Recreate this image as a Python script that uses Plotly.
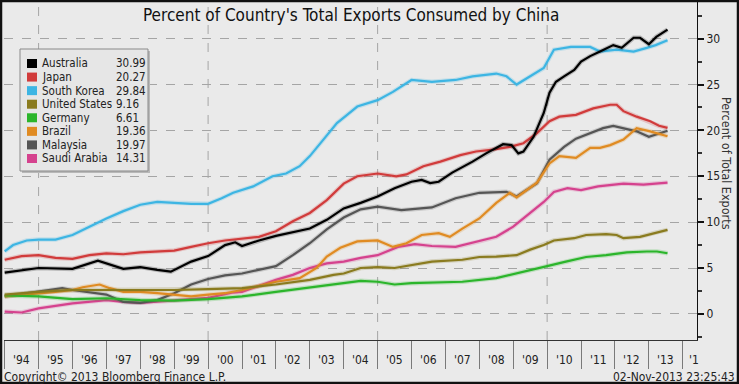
import plotly.graph_objects as go

# ---------------- data (decimal years, percent) ----------------
aus_t = [1994.0, 1995.0, 1996.0, 1996.75, 1997.5, 1998.0, 1998.5, 1998.9, 1999.5, 2000.0, 2000.5, 2000.8,
         2001.0, 2001.5, 2002.0, 2002.5, 2003.0, 2003.5, 2004.0, 2004.5, 2005.0, 2005.5, 2006.0, 2006.3,
         2006.55, 2006.8, 2007.2, 2007.8, 2008.2, 2008.7, 2008.95, 2009.15, 2009.3, 2009.6, 2009.9, 2010.07,
         2010.26, 2010.5, 2010.8, 2011.0, 2011.27, 2011.56, 2011.95, 2012.2, 2012.55, 2012.74, 2013.0,
         2013.22, 2013.55]
aus_v = [4.5, 5.0, 4.9, 5.8, 4.9, 5.1, 4.8, 4.6, 5.7, 6.3, 7.5, 7.8,
         7.4, 8.0, 8.5, 8.9, 9.3, 10.25, 11.5, 12.1, 12.8, 13.7, 14.4, 14.6,
         14.25, 14.4, 15.4, 16.6, 17.5, 18.5, 18.4, 17.5, 17.7, 19.3, 21.9, 24.1,
         25.3, 25.9, 26.6, 27.5, 28.1, 28.6, 29.3, 29.0, 30.1, 30.1, 29.4,
         30.2, 30.99]

jpn_t = [1994.0, 1994.5, 1995.0, 1995.5, 1996.0, 1996.5, 1997.0, 1997.5, 1998.0, 1998.5, 1999.0, 1999.5,
         2000.0, 2000.5, 2001.0, 2001.5, 2002.0, 2002.5, 2003.0, 2003.5, 2004.0, 2004.4, 2005.0, 2005.55,
         2005.85, 2006.35, 2006.85, 2007.44, 2007.9, 2008.4, 2008.9, 2009.3, 2009.7, 2010.07, 2010.36,
         2010.85, 2011.36, 2011.86, 2012.05, 2012.25, 2012.64, 2013.04, 2013.3, 2013.55]
jpn_v = [5.9, 6.3, 6.4, 6.1, 6.0, 6.4, 6.6, 6.5, 6.7, 6.8, 6.9, 7.3,
         7.7, 8.0, 8.2, 8.4, 9.0, 10.1, 11.0, 12.4, 14.2, 15.0, 15.3, 15.0,
         15.2, 16.1, 16.6, 17.3, 17.7, 17.9, 18.2, 18.6, 19.7, 21.0, 21.5,
         21.7, 22.4, 22.8, 22.8, 22.1, 21.5, 21.0, 20.5, 20.27]

kor_t = [1994.0, 1994.25, 1994.65, 1995.0, 1995.5, 1996.0, 1996.5, 1997.0, 1997.5, 1998.0, 1998.5, 1999.0,
         1999.5, 2000.0, 2000.4, 2000.74, 2001.33, 2001.9, 2002.3, 2002.7, 2003.0, 2003.4, 2003.8, 2004.1,
         2004.4, 2005.0, 2005.45, 2006.0, 2006.6, 2007.3, 2007.8, 2008.5, 2008.8, 2009.1, 2009.4, 2009.9,
         2010.2, 2010.7, 2011.27, 2011.56, 2012.05, 2012.55, 2012.94, 2013.2, 2013.55]
kor_v = [6.8, 7.5, 8.0, 8.1, 8.1, 8.6, 9.5, 10.4, 11.2, 11.9, 12.2, 12.1,
         12.0, 12.0, 12.6, 13.2, 13.9, 15.0, 15.3, 16.1, 17.2, 19.0, 20.8, 21.7,
         22.6, 23.3, 24.2, 25.5, 25.3, 25.5, 25.9, 26.2, 25.9, 25.0, 25.7, 26.8,
         28.8, 29.1, 29.1, 28.6, 28.8, 28.6, 29.0, 29.3, 29.84]

usa_t = [1994.0, 1995.0, 1996.0, 1997.0, 1998.0, 1999.0, 2000.0, 2001.0, 2002.0, 2003.0, 2003.7, 2004.0,
         2004.5, 2005.0, 2005.5, 2006.0, 2006.6, 2007.5, 2008.0, 2008.5, 2009.1, 2009.5, 2009.9, 2010.2,
         2010.8, 2011.15, 2011.74, 2012.05, 2012.25, 2012.74, 2013.14, 2013.55]
usa_v = [2.1, 2.4, 2.6, 2.6, 2.6, 2.6, 2.7, 2.8, 3.2, 3.7, 4.25, 4.4,
         5.0, 5.1, 5.0, 5.3, 5.7, 5.9, 6.2, 6.25, 6.4, 7.0, 7.5, 8.0,
         8.25, 8.6, 8.7, 8.6, 8.25, 8.4, 8.8, 9.16]

deu_t = [1994.0, 1995.0, 1996.0, 1997.0, 1998.0, 1999.0, 2000.0, 2001.0, 2002.0, 2003.0, 2004.0, 2004.5,
         2005.0, 2005.5, 2006.0, 2006.6, 2007.5, 2008.5, 2009.1, 2009.5, 2010.0, 2010.55, 2011.15, 2011.74,
         2012.35, 2012.94, 2013.24, 2013.55]
deu_v = [2.0, 1.9, 1.6, 1.7, 1.5, 1.45, 1.6, 1.9, 2.4, 2.9, 3.35, 3.6,
         3.5, 3.2, 3.35, 3.4, 3.5, 3.9, 4.4, 4.8, 5.2, 5.7, 6.2, 6.4,
         6.7, 6.8, 6.8, 6.61]

bra_t = [1994.0, 1994.65, 1995.0, 1995.5, 1996.0, 1996.3, 1996.8, 1997.1, 1997.5, 1998.0, 1998.5, 1999.0,
         1999.5, 2000.0, 2000.5, 2001.0, 2002.0, 2002.7, 2003.2, 2003.5, 2003.9, 2004.4, 2005.0, 2005.45,
         2005.85, 2006.3, 2006.8, 2007.13, 2007.5, 2008.0, 2008.5, 2008.9, 2009.1, 2009.7, 2010.07, 2010.36,
         2010.85, 2011.27, 2011.56, 2011.86, 2012.25, 2012.64, 2013.04, 2013.55]
bra_v = [1.9, 2.1, 2.25, 2.4, 2.6, 2.9, 3.2, 2.8, 2.4, 2.4, 2.25, 2.1,
         1.9, 2.1, 2.25, 2.6, 3.5, 3.9, 5.0, 6.25, 7.2, 7.9, 8.0, 7.3,
         7.7, 8.6, 8.8, 8.4, 9.3, 10.4, 12.1, 13.2, 12.7, 14.3, 16.4, 17.2,
         17.0, 18.1, 18.1, 18.4, 19.0, 20.25, 19.9, 19.36]

mys_t = [1994.0, 1995.0, 1995.7, 1996.0, 1997.0, 1997.5, 1998.0, 1998.5, 1999.0, 1999.5, 2000.0, 2000.5,
         2001.0, 2002.0, 2002.5, 2003.0, 2003.5, 2004.0, 2004.5, 2005.0, 2005.7, 2006.6, 2007.3, 2008.0,
         2008.8, 2009.1, 2009.7, 2010.07, 2010.5, 2010.85, 2011.27, 2011.65, 2011.95, 2012.25, 2012.64,
         2013.0, 2013.55]
mys_v = [1.9, 2.4, 2.8, 2.6, 2.1, 1.3, 1.2, 1.5, 2.25, 3.2, 3.8, 4.2,
         4.4, 5.2, 6.4, 7.7, 9.2, 10.5, 11.4, 11.7, 11.3, 11.6, 12.6, 13.2,
         13.3, 12.8, 14.25, 16.8, 18.2, 19.1, 19.7, 20.25, 20.5, 20.25, 19.9,
         19.3, 19.97]

sau_t = [1994.0, 1994.5, 1995.0, 1996.0, 1997.0, 1997.5, 1998.0, 1999.0, 2000.0, 2000.7, 2001.0, 2002.0,
         2002.5, 2003.0, 2003.5, 2004.0, 2004.5, 2005.0, 2005.6, 2006.1, 2006.6, 2007.3, 2008.0, 2008.5,
         2009.0, 2009.5, 2009.9, 2010.2, 2010.6, 2011.0, 2011.5, 2012.25, 2012.84, 2013.55]
sau_v = [0.25, 0.15, 0.6, 1.15, 1.5, 1.3, 1.2, 1.45, 1.75, 2.3, 2.4, 3.7,
         4.25, 5.0, 5.5, 5.7, 6.1, 6.4, 7.3, 7.6, 7.4, 7.3, 7.9, 8.4,
         9.5, 11.0, 12.2, 13.3, 13.7, 13.5, 13.9, 14.2, 14.1, 14.31]

countries = ["Australia", "Japan", "South Korea", "United States", "Germany", "Brazil", "Malaysia", "Saudi Arabia"]
last_values = ["30.99", "20.27", "29.84", "9.16", "6.61", "19.36", "19.97", "14.31"]
series_t = [aus_t, jpn_t, kor_t, usa_t, deu_t, bra_t, mys_t, sau_t]
series_v = [aus_v, jpn_v, kor_v, usa_v, deu_v, bra_v, mys_v, sau_v]
colors = ["#000000", "#d13b3b", "#3db5e3", "#8a7b1f", "#2bb52b", "#e08b22", "#555555", "#d5428e"]

year_ticks = list(range(1994, 2015))
year_labels = ["'94", "'95", "'96", "'97", "'98", "'99", "'00", "'01", "'02", "'03",
               "'04", "'05", "'06", "'07", "'08", "'09", "'10", "'11", "'12", "'13", "'1"]
vgrid_years = [1995, 2000, 2005, 2010]
y_major = [0, 5, 10, 15, 20, 25, 30]
y_minor = [-2.5, 2.5, 7.5, 12.5, 17.5, 22.5, 27.5, 32.5]

# ---------------- layout geometry ----------------
W, H = 739, 384
ML, MR, MT, MB = 4, 42, 2, 44
PW, PH = W - ML - MR, H - MT - MB
FONT = "DejaVu Sans Condensed, DejaVu Sans, sans-serif"
BG = "#eaeaea"


def px(x):
    return (x - ML) / PW


def py(y):
    return (H - MB - y) / PH


def hex_rgba(c, a):
    c = c.lstrip("#")
    return "rgba(%d,%d,%d,%.2f)" % (int(c[0:2], 16), int(c[2:4], 16), int(c[4:6], 16), a)


fig = go.Figure()
# draw in reverse so Australia is on top
for name, t, v, c in reversed(list(zip(countries, series_t, series_v, colors))):
    fig.add_trace(go.Scatter(x=t, y=v, mode="lines", line=dict(color=hex_rgba(c, 0.22), width=4.5),
                             hoverinfo="skip", showlegend=False))
    fig.add_trace(go.Scatter(x=t, y=v, mode="lines", name=name, line=dict(color=c, width=2.2),
                             showlegend=False))

shapes = []
for yr in vgrid_years:
    shapes.append(dict(type="line", xref="x", yref="paper", x0=yr, x1=yr, y0=0, y1=1,
                       line=dict(color="#a5a5a5", width=1, dash="dash"), layer="below"))

# legend box
shapes.append(dict(type="rect", xref="paper", yref="paper", x0=px(22), x1=px(150), y0=py(173), y1=py(51),
                   fillcolor="#b8b8b8", line=dict(width=0), layer="above"))
shapes.append(dict(type="rect", xref="paper", yref="paper", x0=px(20), x1=px(148), y0=py(171), y1=py(49),
                   fillcolor="#e6e6e6", line=dict(color="#8a8a8a", width=1), layer="above"))

annotations = []
row0, dy = 63.5, 13.57
for i, (name, val, c) in enumerate(zip(countries, last_values, colors)):
    yc = row0 + i * dy
    shapes.append(dict(type="rect", xref="paper", yref="paper", x0=px(27), x1=px(37), y0=py(yc + 4.5),
                       y1=py(yc - 4.5), fillcolor=c, line=dict(width=0), layer="above"))
    annotations.append(dict(text=name, xref="paper", yref="paper", x=px(40), y=py(yc), xanchor="left",
                            yanchor="middle", showarrow=False, font=dict(family=FONT, size=11.5, color="#222")))
    annotations.append(dict(text=val, xref="paper", yref="paper", x=px(114), y=py(yc), xanchor="left",
                            yanchor="middle", showarrow=False, font=dict(family=FONT, size=11.5, color="#222")))

# x labels centred in year bands
for yr, lab in zip(year_ticks, year_labels):
    if yr < 2014:
        annotations.append(dict(text=lab, xref="x", yref="paper", x=yr + 0.5, y=py(360), xanchor="center",
                                yanchor="middle", showarrow=False, font=dict(family=FONT, size=12, color="#222")))
    else:
        annotations.append(dict(text=lab, xref="x", yref="paper", x=yr, xshift=4, y=py(360), xanchor="left",
                                yanchor="middle", showarrow=False, font=dict(family=FONT, size=12, color="#222")))

annotations += [
    dict(text="Percent of Country's Total Exports Consumed by China", xref="paper", yref="paper",
         x=px(351), y=py(15), xanchor="center", yanchor="middle", showarrow=False,
         font=dict(family=FONT, size=17, color="#111")),
    dict(text="Percent of Total Exports", xref="paper", yref="paper", x=px(727), y=py(163), textangle=90,
         xanchor="center", yanchor="middle", showarrow=False, font=dict(family=FONT, size=12.5, color="#333")),
    dict(text="Copyright\u00a9 2013 Bloomberg Finance L.P.", xref="paper", yref="paper", x=px(2), y=py(377),
         xanchor="left", yanchor="middle", showarrow=False, font=dict(family=FONT, size=12, color="#222")),
    dict(text="02-Nov-2013 23:25:43", xref="paper", yref="paper", x=px(737), y=py(377),
         xanchor="right", yanchor="middle", showarrow=False, font=dict(family=FONT, size=12, color="#222")),
]

# outer dark frame
shapes.append(dict(type="rect", xref="paper", yref="paper", x0=px(1), x1=px(738), y0=py(383), y1=py(1),
                   line=dict(color="#111", width=2.5), layer="above"))

fig.update_layout(
    width=W, height=H, margin=dict(l=ML, r=MR, t=MT, b=MB),
    paper_bgcolor=BG, plot_bgcolor=BG, showlegend=False,
    font=dict(family=FONT, size=12, color="#222"),
    shapes=shapes, annotations=annotations,
    xaxis=dict(range=[1993.98, 2014.42], tickvals=year_ticks, showticklabels=False, ticks="outside",
               ticklen=28, tickcolor="#7a7a7a", tickwidth=1, showgrid=False, zeroline=False,
               showline=True, linecolor="#333", linewidth=1),
    yaxis=dict(range=[-2.85, 34.0], side="right", tickvals=y_major, ticks="outside", ticklen=6, tickwidth=2,
               tickcolor="#111", showline=True, linecolor="#111", linewidth=1, zeroline=False,
               showgrid=True, gridcolor="#a5a5a5", griddash="dash", gridwidth=1,
               tickfont=dict(family=FONT, size=12, color="#222"),
               minor=dict(tickvals=y_minor, ticks="outside", ticklen=4, tickcolor="#333", showgrid=False)),
)

fig.write_html("out.html", config={"displayModeBar": False},
               post_script="document.body.style.margin='0';document.body.style.overflow='hidden';")
